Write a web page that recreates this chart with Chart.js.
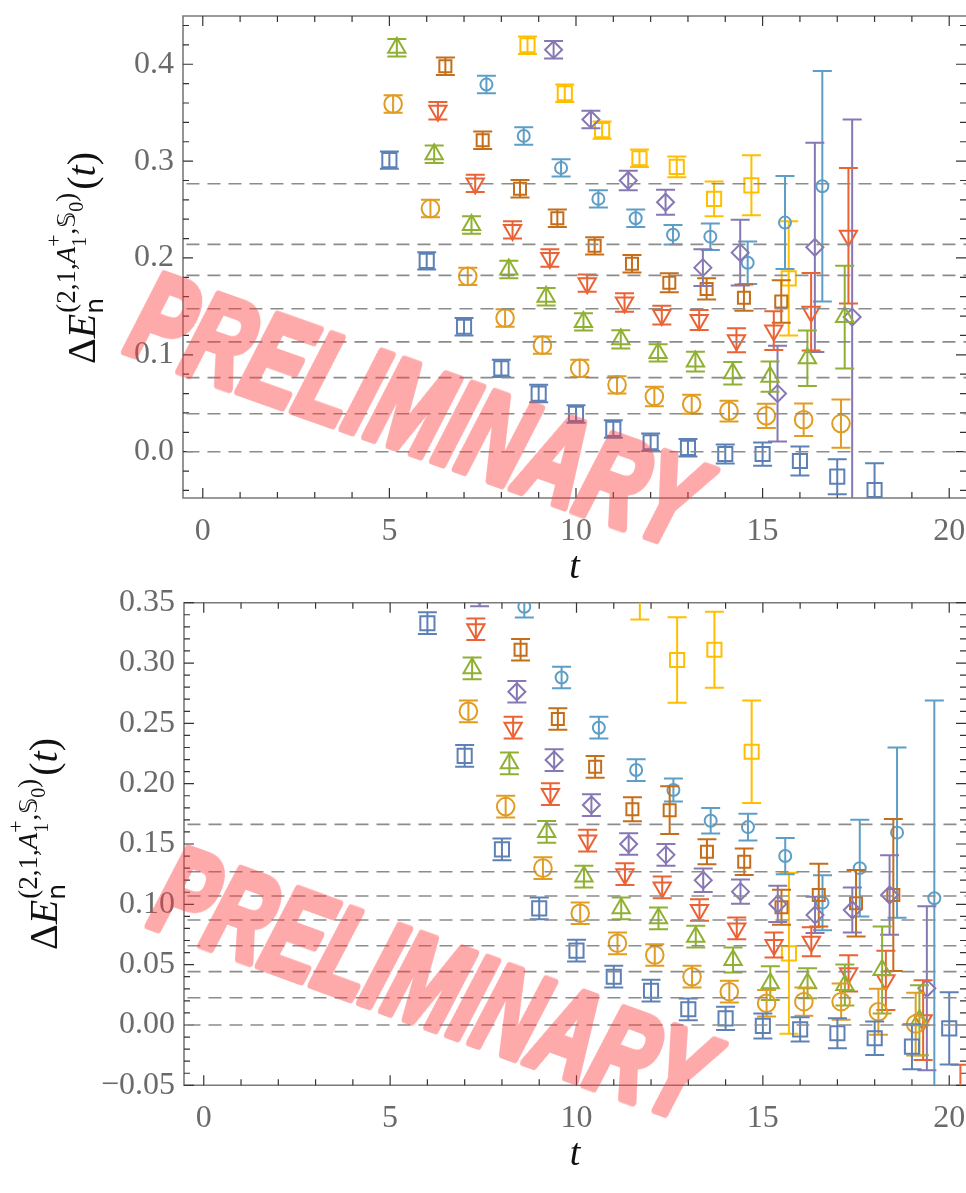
<!DOCTYPE html>
<html>
<head>
<meta charset="utf-8">
<script src="https://cdn.jsdelivr.net/npm/chart.js@4.4.1/dist/chart.umd.min.js"></script>
<style>
  body { margin: 0; background: #fff; overflow: hidden; }
  #page { position: relative; width: 966px; height: 1193px; }
  canvas { position: absolute; left: 0; }
  #topChart { top: 0; }
  #bottomChart { top: 560px; }
</style>
</head>
<body>
<div id="page">
  <canvas id="topChart" width="966" height="600"></canvas>
  <canvas id="bottomChart" width="966" height="633"></canvas>
</div>
<script>
// ---- axis ticks ----
const xTicks = [0, 5, 10, 15, 20];
const xTickLabels = ["0", "5", "10", "15", "20"];
const topYTicks = [0, 0.1, 0.2, 0.3, 0.4];
const topYTickLabels = ["0.0", "0.1", "0.2", "0.3", "0.4"];
const botYTicks = [-0.05, 0, 0.05, 0.1, 0.15, 0.2, 0.25, 0.3, 0.35];
const botYTickLabels = ["\u22120.05", "0.00", "0.05", "0.10", "0.15", "0.20", "0.25", "0.30", "0.35"];

// ---- fitted plateau levels (dashed) ----
const topLevels = [0.2766, 0.214, 0.182, 0.1475, 0.1134, 0.0765, 0.0392, 0.0];
const botLevels = [0.1663, 0.127, 0.1069, 0.087, 0.0657, 0.0442, 0.0226, 0.0];

// ---- upper panel: effective energy shifts ----
const topBlueT = [5, 6, 7, 8, 9, 10, 11, 12, 13, 14, 15, 16, 17, 18];
const topBlueY = [0.301, 0.197, 0.129, 0.086, 0.060, 0.039, 0.0235, 0.0097, 0.004, -0.0024, -0.0024, -0.0096, -0.0258, -0.0395];
const topBlueErr = [0.009, 0.009, 0.009, 0.009, 0.009, 0.009, 0.009, 0.009, 0.009, 0.0098, 0.012, 0.015, 0.018, 0.0276];

const topOrangeT = [5, 6, 7, 8, 9, 10, 11, 12, 13, 14, 15, 16, 17];
const topOrangeY = [0.359, 0.251, 0.181, 0.138, 0.110, 0.086, 0.069, 0.057, 0.049, 0.042, 0.037, 0.033, 0.029];
const topOrangeErr = [0.009, 0.009, 0.009, 0.009, 0.009, 0.009, 0.009, 0.010, 0.0098, 0.0107, 0.0126, 0.0167, 0.025];

const topGreenT = [5, 6, 7, 8, 9, 10, 11, 12, 13, 14, 15, 16, 17];
const topGreenY = [0.417, 0.307, 0.234, 0.188, 0.160, 0.134, 0.116, 0.102, 0.093, 0.081, 0.0775, 0.0965, 0.139];
const topGreenErr = [0.009, 0.009, 0.009, 0.009, 0.009, 0.009, 0.0095, 0.009, 0.0103, 0.0115, 0.0155, 0.0287, 0.053];

const topRedT = [6, 7, 8, 9, 10, 11, 12, 13, 14, 15, 16, 17];
const topRedY = [0.352, 0.277, 0.229, 0.200, 0.174, 0.154, 0.141, 0.136, 0.115, 0.125, 0.1445, 0.223];
const topRedErr = [0.009, 0.009, 0.009, 0.009, 0.009, 0.0095, 0.0098, 0.0103, 0.0124, 0.020, 0.040, 0.070];

const topPurpleT = [9, 10, 11, 12, 13, 14, 15, 16, 17];
const topPurpleY = [0.415, 0.343, 0.280, 0.2575, 0.190, 0.2055, 0.060, 0.211, 0.139];
const topPurpleErr = [0.009, 0.009, 0.010, 0.013, 0.019, 0.034, 0.0495, 0.108, 0.204];

const topBrownT = [6, 7, 8, 9, 10, 11, 12, 13, 14, 15];
const topBrownY = [0.398, 0.3216, 0.2715, 0.241, 0.2125, 0.194, 0.1745, 0.168, 0.159, 0.155];
const topBrownErr = [0.009, 0.009, 0.009, 0.009, 0.009, 0.009, 0.0098, 0.011, 0.0135, 0.022];

const topLightT = [7, 8, 9, 10, 11, 12, 13, 14, 15, 16];
const topLightY = [0.379, 0.326, 0.293, 0.261, 0.241, 0.224, 0.222, 0.195, 0.2365, 0.274];
const topLightErr = [0.009, 0.009, 0.009, 0.009, 0.009, 0.010, 0.0137, 0.022, 0.048, 0.119];

const topYellowT = [8, 9, 10, 11, 12, 13, 14, 15];
const topYellowY = [0.4196, 0.370, 0.332, 0.303, 0.294, 0.261, 0.275, 0.179];
const topYellowErr = [0.009, 0.009, 0.009, 0.009, 0.0107, 0.018, 0.031, 0.059];

// ---- lower panel ----
const botBlueT = [6, 7, 8, 9, 10, 11, 12, 13, 14, 15, 16, 17, 18, 19, 20];
const botBlueY = [0.333, 0.223, 0.1456, 0.0967, 0.0616, 0.040, 0.0284, 0.013, 0.0055, -0.0008, -0.0036, -0.0069, -0.011, -0.018, -0.0028];
const botBlueErr = [0.009, 0.009, 0.009, 0.009, 0.009, 0.009, 0.009, 0.009, 0.0097, 0.0104, 0.010, 0.0124, 0.0138, 0.0187, 0.030];

const botOrangeT = [7, 8, 9, 10, 11, 12, 13, 14, 15, 16, 17, 18, 19];
const botOrangeY = [0.260, 0.181, 0.130, 0.0926, 0.0677, 0.058, 0.040, 0.0276, 0.018, 0.0193, 0.0193, 0.011, 0.0008];
const botOrangeErr = [0.009, 0.009, 0.009, 0.009, 0.009, 0.009, 0.009, 0.009, 0.011, 0.0117, 0.015, 0.019, 0.026];

const botGreenT = [7, 8, 9, 10, 11, 12, 13, 14, 15, 16, 17, 18, 19];
const botGreenY = [0.2956, 0.2169, 0.160, 0.123, 0.0967, 0.0884, 0.0732, 0.0539, 0.0346, 0.0346, 0.0332, 0.0456, 0.004];
const botGreenErr = [0.009, 0.009, 0.009, 0.009, 0.009, 0.009, 0.009, 0.0104, 0.014, 0.0124, 0.017, 0.036, 0.029];

const botRedT = [7, 8, 9, 10, 11, 12, 13, 14, 15, 16, 17, 18, 19, 20];
const botRedY = [0.328, 0.2464, 0.1914, 0.1528, 0.125, 0.114, 0.0953, 0.080, 0.0663, 0.069, 0.0428, 0.037, 0.004, -0.06];
const botRedErr = [0.009, 0.009, 0.009, 0.009, 0.009, 0.009, 0.009, 0.009, 0.0104, 0.012, 0.015, 0.0245, 0.033, 0.027];

const botPurpleT = [7, 8, 9, 10, 11, 12, 13, 14, 15, 16, 17, 18, 19];
const botPurpleY = [0.356, 0.2762, 0.2196, 0.1823, 0.150, 0.141, 0.120, 0.1105, 0.1003, 0.0912, 0.0953, 0.1077, 0.0304];
const botPurpleErr = [0.009, 0.009, 0.009, 0.009, 0.009, 0.009, 0.0097, 0.010, 0.015, 0.015, 0.0187, 0.033, 0.068];

const botBrownT = [8, 9, 10, 11, 12, 13, 14, 15, 16, 17, 18];
const botBrownY = [0.311, 0.2536, 0.214, 0.1788, 0.178, 0.1436, 0.1353, 0.0975, 0.1077, 0.1009, 0.1077];
const botBrownErr = [0.009, 0.009, 0.009, 0.010, 0.0198, 0.0104, 0.011, 0.0145, 0.026, 0.0276, 0.063];

const botLightT = [8, 9, 10, 11, 12, 13, 14, 15, 16, 17, 18, 19];
const botLightY = [0.3467, 0.288, 0.2464, 0.2113, 0.1948, 0.1693, 0.164, 0.140, 0.1014, 0.130, 0.1594, 0.105];
const botLightErr = [0.009, 0.009, 0.009, 0.009, 0.0095, 0.0105, 0.011, 0.015, 0.0228, 0.040, 0.0706, 0.164];

const botYellowT = [11, 12, 13, 14, 15];
const botYellowY = [0.37, 0.3025, 0.311, 0.2265, 0.0594];
const botYellowErr = [0.034, 0.0355, 0.0315, 0.0425, 0.0667];

// marker styles, each level shifted a little in t so the bars don't overlap
const styles = {
  blue:   { color: "#5E81B5", shape: "rect",     r: 10,  rot: 0,   dt: 0.0 },
  orange: { color: "#E19C24", shape: "circle",   r: 8.8, rot: 0,   dt: 0.1 },
  green:  { color: "#8FB032", shape: "triangle", r: 10,  rot: 0,   dt: 0.2 },
  red:    { color: "#EB6235", shape: "triangle", r: 10,  rot: 180, dt: 0.3 },
  purple: { color: "#8778B3", shape: "rectRot",  r: 8.5, rot: 0,   dt: 0.4 },
  brown:  { color: "#C56E1A", shape: "rect",     r: 8.5, rot: 0,   dt: 0.5 },
  light:  { color: "#5D9EC7", shape: "circle",   r: 6,   rot: 0,   dt: 0.6 },
  yellow: { color: "#FFBF00", shape: "rect",     r: 10,  rot: 0,   dt: 0.7 }
};

function series(t, y, err, st) {
  return {
    type: "scatter",
    data: t.map((v, i) => ({ x: v + st.dt, y: y[i] })),
    errors: err,
    borderColor: st.color,
    backgroundColor: "rgba(0,0,0,0)",
    pointStyle: st.shape,
    pointRadius: st.r,
    rotation: st.rot,
    borderWidth: 2,
    showLine: false
  };
}

function levelLines(levels) {
  return levels.map(v => ({
    type: "line",
    data: [{ x: -1, y: v }, { x: 22, y: v }],
    borderColor: "#8c8c8c",
    borderWidth: 1.6,
    borderDash: [13, 8],
    pointRadius: 0,
    errors: null
  }));
}

function range(a, b, step) {
  const out = [];
  for (let v = a; v <= b + 1e-9; v += step) out.push(Math.round(v * 1000) / 1000);
  return out;
}

// error bars, drawn right after each scatter set
const errorBars = {
  id: "errorBars",
  afterDatasetDraw(chart, args) {
    const ds = chart.data.datasets[args.index];
    if (!ds.errors) return;
    const { ctx, chartArea: a } = chart;
    const xs = chart.scales.x, ys = chart.scales.y;
    const cap = 9.5;
    ctx.save();
    ctx.beginPath();
    ctx.rect(a.left, a.top, a.right - a.left, a.bottom - a.top);
    ctx.clip();
    ctx.strokeStyle = ds.borderColor;
    ctx.lineWidth = 2;
    ctx.beginPath();
    ds.data.forEach((p, i) => {
      const px = xs.getPixelForValue(p.x);
      const hi = ys.getPixelForValue(p.y + ds.errors[i]);
      const lo = ys.getPixelForValue(p.y - ds.errors[i]);
      ctx.moveTo(px, hi); ctx.lineTo(px, lo);
      ctx.moveTo(px - cap, hi); ctx.lineTo(px + cap, hi);
      ctx.moveTo(px - cap, lo); ctx.lineTo(px + cap, lo);
    });
    ctx.stroke();
    ctx.restore();
  }
};

// box frame with inward ticks on all four sides
const frame = {
  id: "frame",
  beforeDatasetsDraw(chart, args, opts) {
    const { ctx, chartArea: a } = chart;
    const xs = chart.scales.x, ys = chart.scales.y;
    ctx.save();
    ctx.strokeStyle = "#7a7a7a";
    ctx.lineWidth = 1.6;
    ctx.beginPath();
    ctx.moveTo(a.right + 2, a.top); ctx.lineTo(a.left, a.top);
    ctx.lineTo(a.left, a.bottom); ctx.lineTo(a.right + 2, a.bottom);
    ctx.stroke();
    ctx.strokeStyle = "#333";
    ctx.lineWidth = 1.2;
    ctx.beginPath();
    opts.xMinor.forEach(v => {
      const px = xs.getPixelForValue(v);
      const L = opts.xMajor.includes(v) ? 10 : 6;
      ctx.moveTo(px, a.bottom); ctx.lineTo(px, a.bottom - L);
      ctx.moveTo(px, a.top); ctx.lineTo(px, a.top + L);
    });
    opts.yMinor.forEach(v => {
      const py = ys.getPixelForValue(v);
      if (py < a.top - 0.5 || py > a.bottom + 0.5) return;
      const L = opts.yMajor.some(m => Math.abs(m - v) < 1e-6) ? 10 : 6;
      ctx.moveTo(a.left, py); ctx.lineTo(a.left + L, py);
      ctx.moveTo(a.right, py); ctx.lineTo(a.right - L, py);
    });
    ctx.stroke();
    ctx.restore();
  }
};

// Delta E_n^(2,1,A1+,S0)(t), typeset by hand and turned on its side
function yLabelLayout(ctx, draw) {
  const serif = '"Liberation Serif"';
  const big = 40, mid = 27, small = 20;
  let p = 0;
  const put = (txt, font, dy, advance = true) => {
    ctx.font = font;
    if (draw) ctx.fillText(txt, p, dy);
    const w = ctx.measureText(txt).width;
    if (advance) p += w;
    return w;
  };
  put("\u0394", `${big}px ${serif}`, 0);
  put("E", `italic ${big}px ${serif}`, 0);
  const p0 = p;
  const wn = put("n", `${mid - 2}px "DejaVu Sans"`, 8, false);
  p = p0 + 1;
  put("(2,1,", `${mid}px ${serif}`, -20);
  put("A", `italic ${mid}px ${serif}`, -20);
  const q = p;
  const w1 = put("1", `${small}px ${serif}`, -9, false);
  p = q;
  const wp = put("+", `${small + 2}px ${serif}`, -34, false);
  p = q + Math.max(w1, wp);
  put(",", `${mid}px ${serif}`, -20);
  put("\uD835\uDD4A", `${mid - 2}px "DejaVu Sans"`, -20);
  put("0", `${small}px ${serif}`, -12);
  put(")", `${mid}px ${serif}`, -20);
  p = Math.max(p, p0 + wn) + 3;
  put("(", `${big}px ${serif}`, 0);
  put("t", `italic ${big}px ${serif}`, 0);
  put(")", `${big}px ${serif}`, 0);
  return p;
}

// heavy watermark text rendered once off-screen, then laid on with transparency
function watermarkImage() {
  const c = document.createElement("canvas");
  const g = c.getContext("2d");
  const font = 'italic bold 124px "Liberation Sans"';
  g.font = font;
  const tw = g.measureText("PRELIMINARY").width;
  c.width = Math.ceil(tw + 60);
  c.height = 190;
  g.font = font;
  g.fillStyle = g.strokeStyle = "rgb(255, 60, 60)";
  g.lineWidth = 8;
  g.lineJoin = "round";
  g.textAlign = "center";
  g.textBaseline = "middle";
  g.fillText("PRELIMINARY", c.width / 2, c.height / 2);
  g.strokeText("PRELIMINARY", c.width / 2, c.height / 2);
  return { canvas: c, textWidth: tw + 8 };
}
const mark = watermarkImage();

const decorations = {
  id: "decorations",
  afterDraw(chart, args, opts) {
    const ctx = chart.ctx;
    // axis label
    ctx.save();
    ctx.fillStyle = "#111";
    ctx.textBaseline = "alphabetic";
    ctx.textAlign = "left";
    const w = yLabelLayout(ctx, false);
    ctx.translate(opts.labelX, opts.labelY);
    ctx.rotate(-Math.PI / 2);
    ctx.translate(-w / 2, 0);
    yLabelLayout(ctx, true);
    ctx.restore();
    // watermark
    ctx.save();
    ctx.translate(opts.markX, opts.markY);
    ctx.rotate(opts.markAngle * Math.PI / 180);
    ctx.scale(opts.markWidth / mark.textWidth, 1);
    ctx.globalAlpha = 0.44;
    ctx.drawImage(mark.canvas, -mark.canvas.width / 2, -mark.canvas.height / 2);
    ctx.restore();
  }
};

function buildChart(id, cfg) {
  const tickFont = { family: "Liberation Serif", size: 32 };
  return new Chart(document.getElementById(id), {
    data: { datasets: cfg.datasets },
    plugins: [frame, errorBars, decorations],
    options: {
      responsive: false,
      animation: false,
      events: [],
      layout: { autoPadding: false, padding: { top: cfg.padTop, right: 0, left: 0, bottom: 0 } },
      plugins: {
        legend: { display: false },
        tooltip: { enabled: false },
        frame: { xMajor: xTicks, xMinor: range(0, 20, 1), yMajor: cfg.yTicks, yMinor: cfg.yMinor },
        decorations: cfg.deco
      },
      scales: {
        x: {
          type: "linear",
          min: -0.53,
          max: 20.45,
          afterBuildTicks: s => { s.ticks = xTicks.map(v => ({ value: v })); },
          afterFit: s => {
            s.height = cfg.xHeight;
            s.paddingLeft = 0; s.paddingRight = 0;
          },
          grid: { display: false, drawTicks: false },
          border: { display: false },
          ticks: {
            font: tickFont, color: "#6a6a6a", padding: 14,
            maxRotation: 0, autoSkip: false,
            callback: (v, i) => xTickLabels[i]
          },
          title: {
            display: true, text: "t", color: "#111",
            font: { family: "Liberation Serif", style: "italic", size: 38 },
            padding: { top: 0, bottom: cfg.titlePad }
          }
        },
        y: {
          type: "linear",
          min: cfg.yMin,
          max: cfg.yMax,
          afterBuildTicks: s => { s.ticks = cfg.yTicks.map(v => ({ value: v })); },
          afterFit: s => {
            s.width = cfg.yWidth;
            s.paddingTop = 0; s.paddingBottom = 0;
          },
          grid: { display: false, drawTicks: false },
          border: { display: false },
          ticks: {
            font: tickFont, color: "#6a6a6a", padding: 9, autoSkip: false,
            callback: (v, i) => cfg.yLabels[i]
          }
        }
      }
    }
  });
}

buildChart("topChart", {
  datasets: [
    ...levelLines(topLevels),
    series(topBlueT, topBlueY, topBlueErr, styles.blue),
    series(topOrangeT, topOrangeY, topOrangeErr, styles.orange),
    series(topGreenT, topGreenY, topGreenErr, styles.green),
    series(topRedT, topRedY, topRedErr, styles.red),
    series(topPurpleT, topPurpleY, topPurpleErr, styles.purple),
    series(topBrownT, topBrownY, topBrownErr, styles.brown),
    series(topLightT, topLightY, topLightErr, styles.light),
    series(topYellowT, topYellowY, topYellowErr, styles.yellow)
  ],
  padTop: 16,
  xHeight: 102,
  titlePad: 9,
  yWidth: 183,
  yMin: -0.0478,
  yMax: 0.4498,
  yTicks: topYTicks,
  yLabels: topYTickLabels,
  yMinor: range(-0.04, 0.44, 0.02),
  deco: { labelX: 95, labelY: 258, markX: 414, markY: 418, markAngle: 19.5, markWidth: 600 }
});

buildChart("bottomChart", {
  datasets: [
    ...levelLines(botLevels),
    series(botBlueT, botBlueY, botBlueErr, styles.blue),
    series(botOrangeT, botOrangeY, botOrangeErr, styles.orange),
    series(botGreenT, botGreenY, botGreenErr, styles.green),
    series(botRedT, botRedY, botRedErr, styles.red),
    series(botPurpleT, botPurpleY, botPurpleErr, styles.purple),
    series(botBrownT, botBrownY, botBrownErr, styles.brown),
    series(botLightT, botLightY, botLightErr, styles.light),
    series(botYellowT, botYellowY, botYellowErr, styles.yellow)
  ],
  padTop: 42.7,
  xHeight: 107.7,
  titlePad: 15,
  yWidth: 184,
  yMin: -0.05,
  yMax: 0.35,
  yTicks: botYTicks,
  yLabels: botYTickLabels,
  yMinor: range(-0.05, 0.35, 0.01),
  deco: { labelX: 57, labelY: 284, markX: 430, markY: 432, markAngle: 20, markWidth: 585 }
});
</script>
</body>
</html>
